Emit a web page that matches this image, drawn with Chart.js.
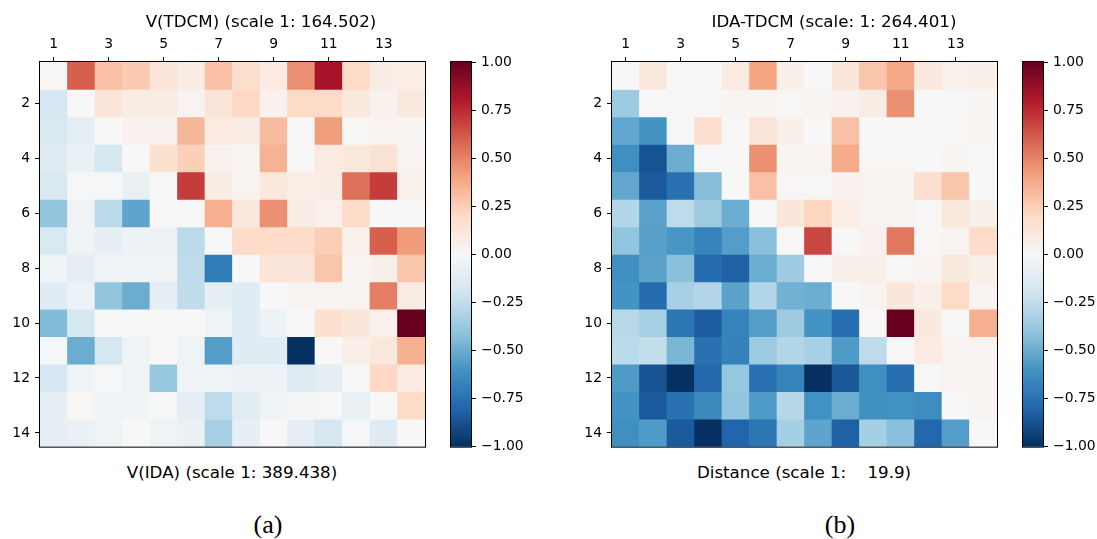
<!DOCTYPE html>
<html lang="en">
<head>
  <meta charset="UTF-8">
  <title>V(TDCM) vs V(IDA) and IDA-TDCM correlation maps</title>
  <script src="https://cdn.jsdelivr.net/npm/chart.js"></script>
  <style>
    body { margin: 0; background: #fff; width: 1097px; height: 539px; position: relative; overflow: hidden;
           font-family: 'DejaVu Sans', sans-serif; color: #000; }
    canvas { position: absolute; top: 0; }
    .txt { position: absolute; transform: translate(-50%, -50%); white-space: pre; }
    .lbl { font-size: 16.7px; }
    .cap { font-family: 'Liberation Serif', serif; font-size: 26px; }
  </style>
</head>
<body>
  <canvas id="heatA" width="440" height="460" style="left:0px"></canvas>
  <canvas id="barA" width="95" height="460" style="left:445px"></canvas>
  <canvas id="heatB" width="440" height="460" style="left:572px"></canvas>
  <canvas id="barB" width="80" height="460" style="left:1017px"></canvas>

  <div class="txt lbl" style="left:261px;top:21px">V(TDCM) (scale 1: 164.502)</div>
  <div class="txt lbl" style="left:232px;top:472px">V(IDA) (scale 1: 389.438)</div>
  <div class="txt cap" style="left:268px;top:525px">(a)</div>

  <div class="txt lbl" style="left:834px;top:21px">IDA-TDCM (scale: 1: 264.401)</div>
  <div class="txt lbl" style="left:804px;top:472px">Distance (scale 1:    19.9)</div>
  <div class="txt cap" style="left:840px;top:525px">(b)</div>

  <script>
    // row/column indices of the 14x14 maps
    const cells = [1, 2, 3, 4, 5, 6, 7, 8, 9, 10, 11, 12, 13, 14];
    const topTicks = [1, 3, 5, 7, 9, 11, 13];
    const sideTicks = [2, 4, 6, 8, 10, 12, 14];
    const barTicks = [-1, -0.75, -0.5, -0.25, 0, 0.25, 0.5, 0.75, 1];

    // (a) V(TDCM) against V(IDA)
    const tdcmVsIda = [
      [0.01, 0.6, 0.3, 0.26, 0.13, 0.08, 0.3, 0.18, 0.09, 0.46, 0.83, 0.2, 0.08, 0.07],
      [-0.18, 0, 0.13, 0.08, 0.08, 0.03, 0.13, 0.21, 0.04, 0.2, 0.2, 0.11, 0.04, 0.1],
      [-0.16, -0.1, 0, 0.04, 0.04, 0.33, 0.09, 0.08, 0.31, 0, 0.42, 0.01, 0.03, 0.02],
      [-0.13, -0.07, -0.18, 0, 0.16, 0.24, 0.04, 0.02, 0.35, 0, 0.09, 0.11, 0.15, 0.03],
      [-0.16, -0.01, -0.01, -0.08, 0, 0.7, 0.08, 0.03, 0.11, 0.07, 0.08, 0.55, 0.7, 0.05],
      [-0.4, -0.04, -0.27, -0.53, 0, 0, 0.36, 0.11, 0.46, 0.08, 0.05, 0.19, 0, 0],
      [-0.16, -0.05, -0.09, -0.06, -0.06, -0.27, 0, 0.19, 0.19, 0.19, 0.25, 0.05, 0.6, 0.43],
      [-0.05, -0.1, -0.04, -0.04, -0.04, -0.26, -0.7, 0, 0.13, 0.13, 0.28, 0.03, 0.06, 0.28],
      [-0.12, -0.06, -0.4, -0.5, -0.1, -0.25, -0.09, -0.12, 0, 0.03, 0.03, 0.03, 0.51, 0.08],
      [-0.44, -0.18, 0, 0, 0, 0, -0.05, -0.12, -0.06, 0, 0.16, 0.12, 0.05, 1.0],
      [-0.01, -0.5, -0.18, -0.05, 0, -0.05, -0.56, -0.12, -0.12, -1.0, 0, 0.06, 0.11, 0.36],
      [-0.18, -0.05, -0.01, -0.05, -0.38, -0.05, -0.05, -0.06, -0.06, -0.13, -0.1, 0, 0.21, 0.09],
      [-0.09, 0.01, -0.04, -0.03, -0.01, -0.1, -0.26, -0.11, -0.05, -0.02, -0.01, -0.08, 0, 0.2],
      [-0.09, -0.07, -0.05, 0, -0.04, -0.07, -0.33, -0.09, 0, -0.1, -0.18, -0.01, -0.12, 0]
    ];

    // (b) IDA-TDCM against distance
    const idaMinusTdcm = [
      [0, 0.11, 0, 0, 0.09, 0.4, 0.06, 0, 0.12, 0.28, 0.39, 0.11, 0.05, 0.06],
      [-0.37, 0, 0.01, 0.01, 0.02, 0.02, 0.01, 0.02, 0.04, 0.08, 0.46, 0, 0, 0.02],
      [-0.52, -0.6, 0, 0.17, 0, 0.13, 0.06, 0, 0.3, 0, 0, 0, 0.01, 0.02],
      [-0.62, -0.87, -0.5, 0, 0, 0.46, 0.02, 0.03, 0.38, 0.01, 0.01, 0, 0.02, 0],
      [-0.52, -0.84, -0.75, -0.43, 0, 0.3, 0.01, 0.01, 0.04, 0.03, 0.03, 0.17, 0.28, 0],
      [-0.3, -0.54, -0.26, -0.36, -0.5, 0, 0.12, 0.22, 0.07, 0.03, 0.03, 0.01, 0.11, 0.06],
      [-0.4, -0.55, -0.59, -0.67, -0.56, -0.42, 0, 0.67, 0, 0.04, 0.53, 0.01, 0.03, 0.19],
      [-0.62, -0.54, -0.42, -0.77, -0.82, -0.5, -0.36, 0, 0.06, 0.06, 0.01, 0.03, 0.1, 0.06],
      [-0.6, -0.77, -0.33, -0.3, -0.54, -0.3, -0.48, -0.5, 0, 0.03, 0.12, 0.06, 0.2, 0.03],
      [-0.28, -0.33, -0.73, -0.83, -0.67, -0.56, -0.36, -0.6, -0.76, 0, 1.0, 0.1, 0, 0.36],
      [-0.27, -0.24, -0.46, -0.75, -0.68, -0.37, -0.3, -0.33, -0.57, -0.26, 0, 0.09, 0.03, 0.03],
      [-0.57, -0.87, -1.0, -0.79, -0.39, -0.75, -0.67, -1.0, -0.85, -0.62, -0.76, 0, 0.03, 0.03],
      [-0.6, -0.84, -0.75, -0.65, -0.4, -0.57, -0.29, -0.61, -0.5, -0.62, -0.61, -0.63, 0, 0.03],
      [-0.62, -0.57, -0.84, -1.0, -0.8, -0.73, -0.34, -0.53, -0.82, -0.34, -0.42, -0.79, -0.56, 0]
    ];

    // matplotlib RdBu_r, from -1 to 1
    const rdbu = ['#053061', '#2166ac', '#4393c3', '#92c5de', '#d1e5f0', '#f7f7f7',
                  '#fddbc7', '#f4a582', '#d6604d', '#b2182b', '#67001f'];

    Chart.defaults.font.family = "'DejaVu Sans', sans-serif";
    Chart.defaults.font.size = 13.9;
    Chart.defaults.color = '#000';

    function hexRgb(h) {
      return [1, 3, 5].map(i => parseInt(h.slice(i, i + 2), 16));
    }

    function colorFor(v) {
      const t = (Math.max(-1, Math.min(1, v)) + 1) * 5;
      const i = Math.min(9, Math.floor(t));
      const f = t - i;
      const a = hexRgb(rdbu[i]), b = hexRgb(rdbu[i + 1]);
      const c = a.map((x, k) => Math.round(x + (b[k] - x) * f));
      return `rgb(${c[0]}, ${c[1]}, ${c[2]})`;
    }

    // black frame round the plot area (matplotlib spines)
    const frame = {
      id: 'frame',
      afterDraw(chart) {
        const { ctx, chartArea: a } = chart;
        ctx.save();
        ctx.strokeStyle = '#000';
        ctx.lineWidth = 1;
        ctx.strokeRect(a.left - 0.5, a.top - 0.5, a.width + 1, a.height + 1);
        ctx.restore();
      }
    };

    const tickGrid = { display: true, offset: false, drawOnChartArea: false, drawTicks: true,
                       tickLength: 5, color: '#000', lineWidth: 1 };

    function drawHeatmap(id, matrix) {
      const datasets = matrix.map((row, r) => ({
        data: cells.map(c => ({ x: c, y: [cells[r] - 0.5, cells[r] + 0.5] })),
        backgroundColor: row.map(colorFor),
        borderWidth: 0,
        grouped: false,
        barPercentage: 1,
        categoryPercentage: 1
      }));

      new Chart(document.getElementById(id), {
        type: 'bar',
        data: { datasets: datasets },
        options: {
          responsive: false,
          animation: false,
          layout: { padding: { top: 0, left: 0, right: 15, bottom: 13 } },
          plugins: { legend: { display: false }, tooltip: { enabled: false } },
          scales: {
            x: {
              type: 'linear', position: 'top', min: 0.5, max: 14.5, offset: false,
              afterBuildTicks: axis => { axis.ticks = topTicks.map(v => ({ value: v })); },
              afterFit: axis => { axis.height = 62; },
              grid: tickGrid,
              border: { display: false },
              ticks: { maxRotation: 0, padding: 4 }
            },
            y: {
              type: 'linear', reverse: true, min: 0.5, max: 14.5,
              afterBuildTicks: axis => { axis.ticks = sideTicks.map(v => ({ value: v })); },
              afterFit: axis => { axis.width = 40; },
              grid: tickGrid,
              border: { display: false },
              ticks: { padding: 5 }
            }
          }
        },
        plugins: [frame]
      });
    }

    function drawColorbar(id) {
      const canvas = document.getElementById(id);
      new Chart(canvas, {
        type: 'bar',
        data: {
          labels: [''],
          datasets: [{
            data: [[-1, 1]],
            borderWidth: 0,
            barPercentage: 1,
            categoryPercentage: 1,
            backgroundColor: ctx => {
              const chart = ctx.chart;
              if (!chart.chartArea) return '#f7f7f7';
              const y = chart.scales.y;
              const g = chart.ctx.createLinearGradient(0, y.getPixelForValue(-1), 0, y.getPixelForValue(1));
              rdbu.forEach((c, i) => g.addColorStop(i / 10, c));
              return g;
            }
          }]
        },
        options: {
          responsive: false,
          animation: false,
          layout: { padding: { top: 62, left: 6, right: 0, bottom: 13 } },
          plugins: { legend: { display: false }, tooltip: { enabled: false } },
          scales: {
            x: { display: false },
            y: {
              position: 'right', min: -1, max: 1,
              afterBuildTicks: axis => { axis.ticks = barTicks.map(v => ({ value: v })); },
              afterFit: axis => { axis.width = canvas.width - 26; },
              grid: tickGrid,
              border: { display: false },
              ticks: {
                padding: 5,
                callback: v => (v < 0 ? '\u2212' : '') + Math.abs(v).toFixed(2)
              }
            }
          }
        },
        plugins: [frame]
      });
    }

    drawHeatmap('heatA', tdcmVsIda);
    drawColorbar('barA');
    drawHeatmap('heatB', idaMinusTdcm);
    drawColorbar('barB');
  </script>
</body>
</html>
